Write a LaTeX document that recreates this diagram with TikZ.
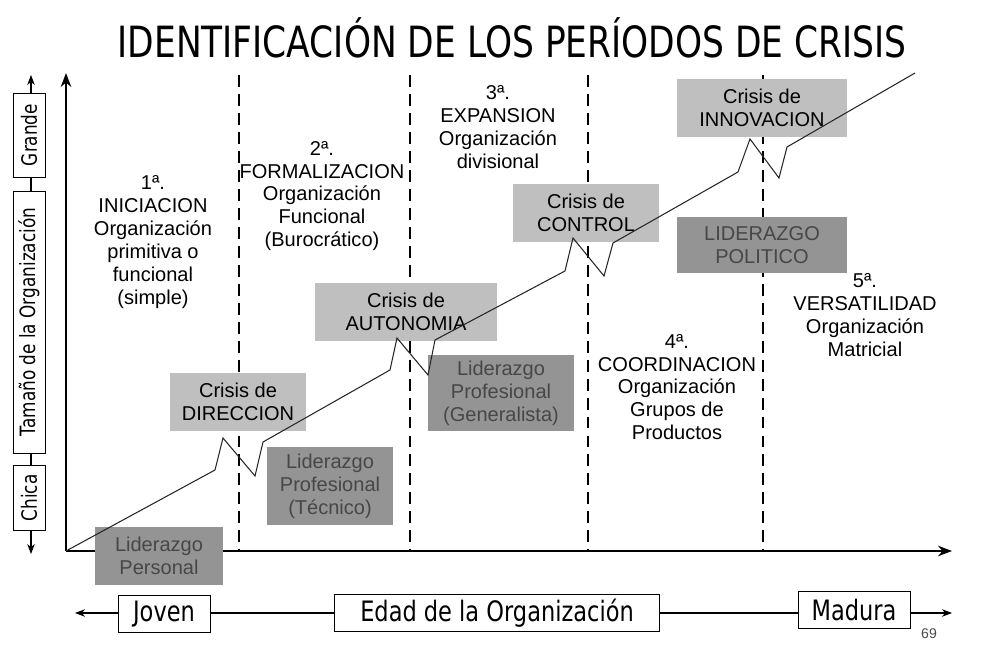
\documentclass[tikz,border=0pt]{standalone}
\usepackage{fontspec}
\setmainfont{Liberation Sans}
\newfontfamily\estrecha[FakeStretch=0.8]{DejaVu Sans}
\usetikzlibrary{arrows.meta}

\begin{document}
\begin{tikzpicture}[x=0.02cm,y=-0.02cm,>=Stealth,
    texto/.style={align=center,font=\fontsize{11.4}{13}\selectfont,inner sep=0pt},
    caja/.style 2 args={texto,minimum width=#1cm,minimum height=#2cm},
    crisis/.style={fill=black!25},
    lider/.style={fill=black!42,text=black!72},
    etiqueta/.style={draw,fill=white,font=\estrecha\fontsize{16}{18}\selectfont,inner sep=0pt,minimum height=0.74cm},
    tamano/.style={draw,fill=white,rotate=90,font=\estrecha\fontsize{12}{14}\selectfont,inner sep=0pt,minimum height=0.64cm}]

    \useasboundingbox (0,0) rectangle (985,645);

    % titulo
    \node[font=\estrecha\fontsize{24.5}{28}\selectfont,anchor=base] (titulo) at (512,58) {IDENTIFICACIÓN DE LOS PERÍODOS DE CRISIS};

    % ejes
    \coordinate (o) at (66,551);
    \coordinate (ysup) at (66,73);
    \coordinate (xfin) at (952,551);
    \draw[->,line width=1.1pt] (o) -- (ysup);
    \draw[->,line width=1.1pt] (o) -- (xfin);

    % lineas de separacion de las etapas
    \foreach \x in {239,410,588,763} {
            \draw[line width=1.4pt,dash pattern=on 6.8pt off 4pt] (\x,75) -- (\x,551);
        }

    % etapas
    \node[texto] (etapa1) at (153,242) {1ª.\\INICIACION\\Organización\\primitiva o\\funcional\\(simple)};
    \node[texto] (etapa2) at (322,196) {2ª.\\FORMALIZACION\\Organización\\Funcional\\(Burocrático)};
    \node[texto] (etapa3) at (498,127) {3ª.\\EXPANSION\\Organización\\divisional};
    \node[texto] (etapa4) at (677,387) {4ª.\\COORDINACION\\Organización\\Grupos de\\Productos};
    \node[texto] (etapa5) at (865,315) {5ª.\\VERSATILIDAD\\Organización\\Matricial};

    % crisis
    \node[caja={2.72}{1.16},crisis] (direccion) at (238,402) {Crisis de\\DIRECCION};
    \node[caja={3.64}{1.16},crisis] (autonomia) at (406,312) {Crisis de\\AUTONOMIA};
    \node[caja={2.94}{1.18},crisis] (control) at (586,213) {Crisis de\\CONTROL};
    \node[caja={3.40}{1.16},crisis] (innovacion) at (762,108) {Crisis de\\INNOVACION};

    % liderazgo
    \node[caja={2.56}{1.16},lider] (personal) at (159,556) {Liderazgo\\Personal};
    \node[caja={2.54}{1.58},lider] (tecnico) at (330,486) {Liderazgo\\Profesional\\(Técnico)};
    \node[caja={2.92}{1.54},lider] (generalista) at (501,393) {Liderazgo\\Profesional\\(Generalista)};
    \node[caja={3.42}{1.14},lider] (politico) at (762,245) {LIDERAZGO\\POLITICO};

    % curva de crecimiento
    \draw[line width=0.6pt,black!85] (o) -- (215,470) -- (223,438) -- (255,476) -- (263,442)
        -- (390,370) -- (397,338) -- (428,375) -- (435,340)
        -- (565,271) -- (573,238) -- (604,276) -- (613,243)
        -- (738,172) -- (750,139) -- (779,178) -- (787,147) -- (915,73);

    % tamano de la organizacion
    \coordinate (tamInf) at (31,554);
    \coordinate (tamSup) at (31,75);
    \draw[<->,line width=0.6pt] (tamInf) -- (tamSup);
    \node[tamano,minimum width=1.68cm] (grande) at (29,135) {Grande};
    \node[tamano,minimum width=5.24cm] (tamanoOrg) at (29,322) {Tamaño de la Organización};
    \node[tamano,minimum width=1.30cm] (chica) at (29,498) {Chica};

    % edad de la organizacion
    \coordinate (edadIzq) at (75,613);
    \coordinate (edadDer) at (952,613);
    \draw[<->,line width=0.6pt] (edadIzq) -- (edadDer);
    \node[etiqueta,minimum width=1.84cm] (joven) at (164,614) {Joven};
    \node[etiqueta,minimum width=6.5cm] (edad) at (497,613) {Edad de la Organización};
    \node[etiqueta,minimum width=2.24cm] (madura) at (854,610) {Madura};

    \node[font=\fontsize{8}{9}\selectfont,text=black!70] (pagina) at (929,634) {69};

\end{tikzpicture}
\end{document}
